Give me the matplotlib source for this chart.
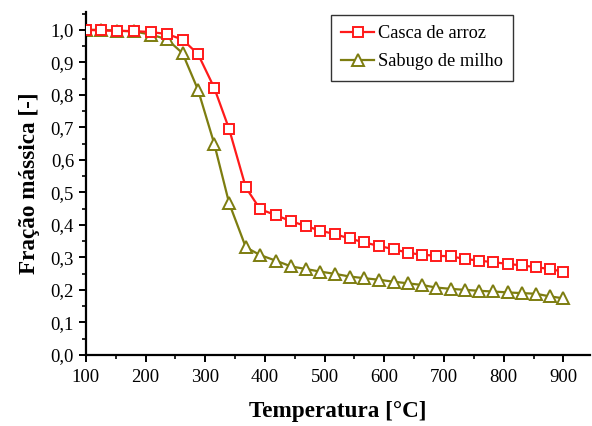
import numpy as np
import matplotlib
matplotlib.use("Agg")
import matplotlib.pyplot as plt
from matplotlib.ticker import MultipleLocator, FuncFormatter

# temperaturas (°C)
temperatura = [100, 125, 153, 181, 209, 236, 262, 288, 315, 340, 368, 392, 418, 444,
               469, 493, 518, 542, 566, 591, 616, 640, 663, 687, 712, 735, 759, 782,
               807, 830, 854, 877, 900]
# fração mássica
casca_arroz = [1.0, 0.998, 0.997, 0.996, 0.993, 0.987, 0.970, 0.925, 0.822, 0.695,
               0.515, 0.448, 0.430, 0.411, 0.396, 0.382, 0.371, 0.358, 0.346, 0.335,
               0.325, 0.314, 0.308, 0.305, 0.303, 0.295, 0.290, 0.285, 0.280, 0.275,
               0.270, 0.264, 0.256]
sabugo_milho = [1.0, 1.0, 0.997, 0.995, 0.985, 0.971, 0.928, 0.815, 0.650, 0.467,
                0.331, 0.307, 0.290, 0.272, 0.264, 0.256, 0.249, 0.241, 0.236, 0.231,
                0.225, 0.220, 0.215, 0.207, 0.203, 0.200, 0.197, 0.195, 0.192, 0.190,
                0.188, 0.180, 0.174]

plt.rcParams['font.family'] = ['Liberation Serif', 'DejaVu Serif']

fig = plt.figure(figsize=(5.92, 4.26), dpi=100)
ax = fig.add_axes([0.145, 0.167, 0.852, 0.805])

ax.plot(temperatura, casca_arroz, color="#ff1a1a", lw=1.6, marker="s", ms=7,
        mfc="white", mec="#ff1a1a", mew=1.4, label="Casca de arroz", zorder=3)
ax.plot(temperatura, sabugo_milho, color="#7d7d10", lw=1.6, marker="^", ms=8,
        mfc="white", mec="#7d7d10", mew=1.4, label="Sabugo de milho", zorder=2)

ax.set_xlim(100, 945)
ax.set_ylim(0, 1.055)

ax.xaxis.set_major_locator(MultipleLocator(100))
ax.xaxis.set_minor_locator(MultipleLocator(50))
ax.yaxis.set_major_locator(MultipleLocator(0.1))
ax.yaxis.set_minor_locator(MultipleLocator(0.05))
ax.yaxis.set_major_formatter(FuncFormatter(lambda v, p: "{:.1f}".format(v).replace(".", ",")))

ax.spines["top"].set_visible(False)
ax.spines["right"].set_visible(False)
for s in ["left", "bottom"]:
    ax.spines[s].set_linewidth(1.6)
ax.tick_params(which="major", direction="out", length=5, width=1.4, labelsize=13.5)
ax.tick_params(axis="x", which="major", pad=5)
ax.tick_params(which="minor", direction="out", length=3, width=1.2)

ax.set_xlabel("Temperatura [°C]", fontsize=16.7, fontweight="bold", labelpad=11)
ax.set_ylabel("Fração mássica [-]", fontsize=16.7, fontweight="bold", labelpad=8)

leg = ax.legend(loc="upper left", bbox_to_anchor=(0.559, 0.964), bbox_transform=fig.transFigure,
                fontsize=13.2, frameon=True, fancybox=False, edgecolor="black",
                handlelength=1.8, handletextpad=0.2, borderpad=0.55, borderaxespad=0,
                labelspacing=0.6)
leg.get_frame().set_linewidth(1.0)

fig.savefig("out.png", dpi=100)
